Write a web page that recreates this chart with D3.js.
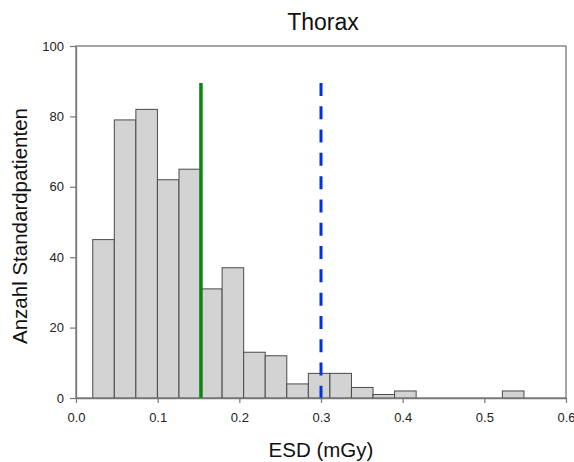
<!DOCTYPE html>
<html>
<head>
<meta charset="utf-8">
<script src="https://cdn.jsdelivr.net/npm/d3@7"></script>
<style>
  body { margin: 0; background: #fff; }
  text { font-family: "Liberation Sans", Arial, sans-serif; fill: #111; }
</style>
</head>
<body>
<svg id="mainChart"></svg>
<script>
var MARGIN = { LEFT: 76, RIGHT: 8, TOP: 46, BOTTOM: 64 };
var W = 574, H = 462;
var plotW = W - MARGIN.LEFT - MARGIN.RIGHT,
    plotH = H - MARGIN.TOP - MARGIN.BOTTOM;

// histogram bins (ESD in mGy)
var binStart = 0.0205;
var binWidth = 0.0264;
var counts = [45, 79, 82, 62, 65, 31, 37, 13, 12, 4, 7, 7, 3, 1, 2, 0, 0, 0, 0, 2];
var xTicks = [0, 0.1, 0.2, 0.3, 0.4, 0.5, 0.6];
var yTicks = [0, 20, 40, 60, 80, 100];
// reference lines: [x value, top value]
var greenLine = [0.153, 89.5];
var blueLine = [0.300, 89.5];

var bins = counts.map(function (c, i) {
    return { x0: binStart + i * binWidth, x1: binStart + (i + 1) * binWidth, n: c };
});

var xScale = d3.scaleLinear().domain([0, 0.6]).range([0, plotW]);
var yScale = d3.scaleLinear().domain([0, 100]).range([plotH, 0]);

var svg = d3.select('#mainChart')
    .attr('width', W)
    .attr('height', H);

var g = svg.append('g')
    .attr('transform', 'translate(' + MARGIN.LEFT + ',' + MARGIN.TOP + ')');

// frame
g.append('rect')
    .attr('x', 0).attr('y', 0)
    .attr('width', plotW).attr('height', plotH)
    .style('fill', 'none')
    .style('stroke', '#777')
    .style('stroke-width', 1.3);

g.selectAll('.bar')
    .data(bins.filter(function (d) { return d.n > 0; }))
    .enter().append('rect')
    .attr('class', 'bar')
    .attr('x', function (d) { return xScale(d.x0); })
    .attr('y', function (d) { return yScale(d.n); })
    .attr('width', function (d) { return xScale(d.x1) - xScale(d.x0); })
    .attr('height', function (d) { return yScale(0) - yScale(d.n); })
    .style('fill', '#d3d3d3')
    .style('stroke', '#4a4a4a')
    .style('stroke-width', 1);

// green solid line
g.append('line')
    .attr('x1', xScale(greenLine[0])).attr('x2', xScale(greenLine[0]))
    .attr('y1', yScale(0)).attr('y2', yScale(greenLine[1]))
    .style('stroke', '#0a870a')
    .style('stroke-width', 3.5);

// blue dashed line
g.append('line')
    .attr('x1', xScale(blueLine[0])).attr('x2', xScale(blueLine[0]))
    .attr('y1', yScale(blueLine[1])).attr('y2', yScale(0))
    .style('stroke', '#0033dd')
    .style('stroke-width', 3)
    .style('stroke-dasharray', '13,10.3');

var xAxis = d3.axisBottom(xScale)
    .tickValues(xTicks)
    .tickFormat(d3.format('.1f'))
    .tickSize(5)
    .tickSizeOuter(0)
    .tickPadding(10);
var yAxis = d3.axisLeft(yScale)
    .tickValues(yTicks)
    .tickFormat(d3.format('d'))
    .tickSize(6)
    .tickSizeOuter(0)
    .tickPadding(6);

var gx = g.append('g')
    .attr('transform', 'translate(0,' + plotH + ')')
    .call(xAxis);
var gy = g.append('g').call(yAxis);

[gx, gy].forEach(function (a) {
    a.select('.domain').style('stroke', '#777').style('stroke-width', 1.3);
    a.selectAll('.tick line').style('stroke', '#777').style('stroke-width', 1.2);
    a.selectAll('.tick text')
        .style('font-family', '"Liberation Sans", Arial, sans-serif')
        .style('font-size', '13px')
        .style('fill', '#222');
});

svg.append('text')
    .attr('x', MARGIN.LEFT + plotW / 2 + 2)
    .attr('y', 30)
    .attr('text-anchor', 'middle')
    .style('font-size', '23px')
    .text('Thorax');

svg.append('text')
    .attr('x', MARGIN.LEFT + plotW / 2)
    .attr('y', 457)
    .attr('text-anchor', 'middle')
    .style('font-size', '20.5px')
    .text('ESD (mGy)');

svg.append('text')
    .attr('transform', 'translate(27,' + (MARGIN.TOP + plotH / 2 + 4) + ') rotate(-90)')
    .attr('text-anchor', 'middle')
    .style('font-size', '20.5px')
    .text('Anzahl Standardpatienten');
</script>
</body>
</html>
